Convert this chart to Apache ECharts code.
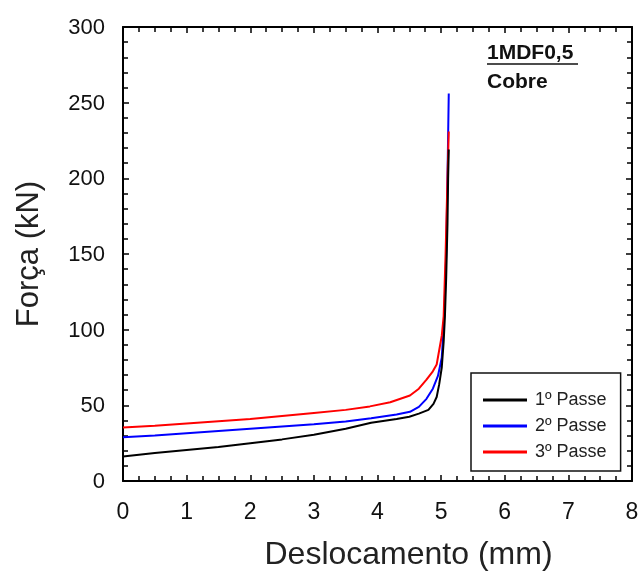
<!DOCTYPE html>
<html>
<head>
<meta charset="utf-8">
<script src="https://cdn.jsdelivr.net/npm/echarts@6/dist/echarts.min.js"></script>
<style>html,body{margin:0;padding:0;background:#fff}#c{width:642px;height:576px}</style>
</head>
<body>
<div id="c"></div>
<script>
const seriesNames = ['1º Passe', '2º Passe', '3º Passe'];
const passe1 = [[0,16.2],[0.5,18.5],[1,20.5],[1.5,22.5],[2,25],[2.5,27.5],[3,30.5],[3.5,34.5],[3.9,38.5],[4.3,41],[4.5,42.5],[4.65,44.5],[4.8,47],[4.88,51],[4.93,55.5],[4.97,64],[5.01,75],[5.04,92],[5.06,109],[5.08,135],[5.1,170],[5.11,200],[5.12,219]];
const passe2 = [[0,28.9],[0.5,30],[1,31.5],[1.5,33],[2,34.5],[2.5,36],[3,37.5],[3.5,39.3],[3.9,41.5],[4.3,44],[4.51,45.7],[4.65,49],[4.77,54.3],[4.87,61],[4.95,69.4],[5.01,81.4],[5.05,109],[5.08,150],[5.1,200],[5.12,256]];
const passe3 = [[0,35.4],[0.5,36.5],[1,38],[1.5,39.5],[2,41],[2.5,43],[3,45],[3.5,47],[3.88,49.3],[4.2,52],[4.51,56.5],[4.65,61],[4.77,67],[4.87,72.5],[4.93,77],[5.01,96],[5.04,109],[5.07,150],[5.1,200],[5.12,231]];
const colors = ['#000000', '#0000ff', '#ff0000'];
const xTitle = 'Deslocamento (mm)';
const yTitle = 'Força (kN)';
const label1 = '1MDF0,5';
const label2 = 'Cobre';

const chart = echarts.init(document.getElementById('c'));
const font = 'Liberation Sans, Arial, sans-serif';
const axisCommon = {
  axisLine: {show: true, onZero: false, lineStyle: {color: '#000', width: 2}},
  axisTick: {show: true, inside: true, length: 6, lineStyle: {color: '#000', width: 1.5}},
  minorTick: {show: true, length: 5, lineStyle: {color: '#000', width: 1.5}},
  splitLine: {show: false}
};
const xBase = {type: 'value', min: 0, max: 8, interval: 1};
const yBase = {type: 'value', min: 0, max: 300, interval: 50};
chart.setOption({
  animation: false,
  backgroundColor: '#fff',
  grid: {left: 123, right: 10, top: 27, bottom: 88, containLabel: false},
  xAxis: [
    Object.assign({}, xBase, axisCommon, {
      position: 'bottom',
      minorTick: Object.assign({}, axisCommon.minorTick, {splitNumber: 4}),
      axisLabel: {color: '#111', fontSize: 23, fontFamily: font, margin: 20},
      name: xTitle, nameLocation: 'middle', nameGap: 58,
      nameTextStyle: {color: '#222', fontSize: 32, fontFamily: font, padding: [0, 0, 0, 62]}
    }),
    Object.assign({}, xBase, axisCommon, {
      position: 'top',
      minorTick: Object.assign({}, axisCommon.minorTick, {splitNumber: 4}),
      axisLabel: {show: false}
    })
  ],
  yAxis: [
    Object.assign({}, yBase, axisCommon, {
      position: 'left',
      minorTick: Object.assign({}, axisCommon.minorTick, {splitNumber: 5}),
      axisLabel: {color: '#111', fontSize: 22, fontFamily: font, margin: 18, verticalAlign: 'top', lineHeight: 2},
      name: yTitle, nameLocation: 'middle', nameGap: 78, nameRotate: 90,
      nameTextStyle: {color: '#222', fontSize: 31, fontFamily: font}
    }),
    Object.assign({}, yBase, axisCommon, {
      position: 'right',
      minorTick: Object.assign({}, axisCommon.minorTick, {splitNumber: 5}),
      axisLabel: {show: false}
    })
  ],
  legend: {
    data: seriesNames,
    orient: 'vertical',
    left: 471, top: 373,
    borderColor: '#111', borderWidth: 1.5,
    padding: [18, 14, 10, 12],
    itemGap: 8,
    itemWidth: 44, itemHeight: 3,
    textStyle: {color: '#222', fontSize: 18, fontFamily: font, padding: [0, 0, 0, 3]},
    icon: 'rect',
    itemStyle: {borderWidth: 0}
  },
  graphic: [
    {type: 'text', left: 487, top: 43, style: {text: label1, fill: '#111', font: 'bold 21px ' + font}},
    {type: 'line', shape: {x1: 487, y1: 64, x2: 578, y2: 64}, style: {stroke: '#111', lineWidth: 1.5}},
    {type: 'text', left: 487, top: 72, style: {text: label2, fill: '#111', font: 'bold 21px ' + font}}
  ],
  series: [
    {name: seriesNames[1], type: 'line', data: passe2, showSymbol: false, symbol: 'none', color: colors[1], lineStyle: {width: 2}, z: 2},
    {name: seriesNames[2], type: 'line', data: passe3, showSymbol: false, symbol: 'none', color: colors[2], lineStyle: {width: 2}, z: 3},
    {name: seriesNames[0], type: 'line', data: passe1, showSymbol: false, symbol: 'none', color: colors[0], lineStyle: {width: 2}, z: 4}
  ]
});
</script>
</body>
</html>
